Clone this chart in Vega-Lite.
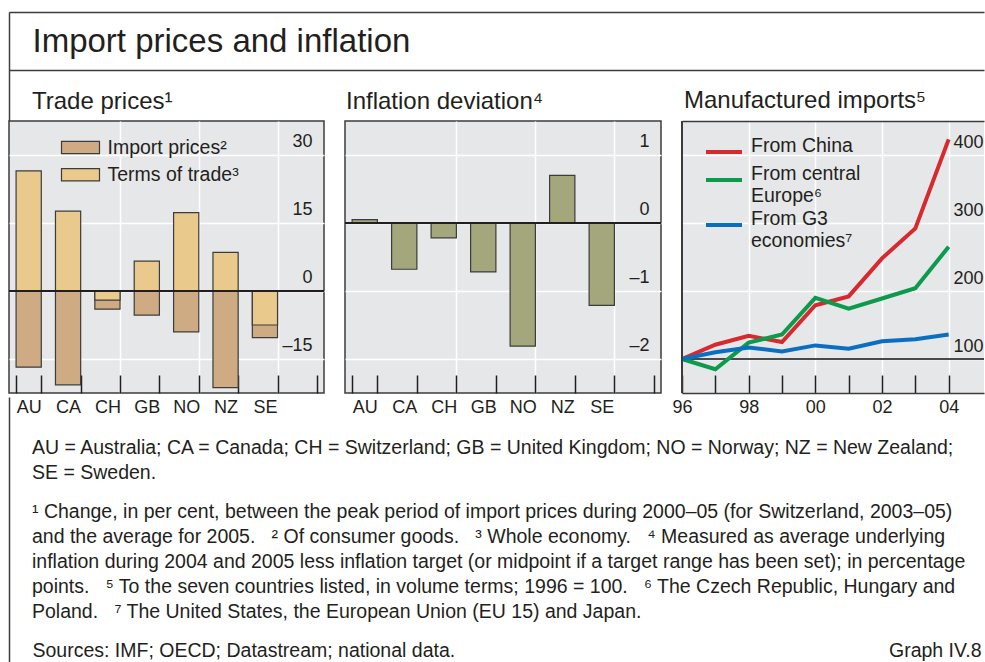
{
  "$schema": "https://vega.github.io/schema/vega-lite/v6.json",
  "background": "white",
  "padding": {"left": 7, "top": 12, "right": 0, "bottom": 0},
  "spacing": -65,
  "resolve": {"scale": {"color": "independent"}, "legend": {"color": "independent"}},
  "config": {
    "font": "Liberation Sans",
    "view": {"stroke": "#3c3c3c", "strokeWidth": 1.5, "fill": "#e6e7e8"},
    "axis": {"labelFont": "Liberation Sans", "labelColor": "#231f20", "titleFont": "Liberation Sans", "titleColor": "#231f20", "titleFontWeight": "normal", "domainColor": "#3c3c3c", "domainWidth": 1.5, "tickColor": "#231f20", "tickWidth": 1.5, "gridColor": "#ffffff", "gridWidth": 1.5, "gridOpacity": 1},
    "legend": {"labelFont": "Liberation Sans", "labelColor": "#231f20", "padding": 0},
    "title": {"font": "Liberation Sans", "color": "#231f20", "fontWeight": "normal", "subtitleFont": "Liberation Sans", "subtitleColor": "#231f20"}
  },
  "vconcat": [
    {
      "width": 975, "height": 109,
      "view": {"stroke": null, "fill": null},
      "data": {"values": [{"k": 0}]},
      "layer": [
        {
          "mark": {"type": "point", "opacity": 0, "size": 0},
          "encoding": {
            "x": {"datum": 0.5, "type": "quantitative", "scale": {"domain": [0, 1]}, "axis": {"orient": "top", "domain": true, "ticks": false, "labels": false, "grid": false, "title": "Import prices and inflation", "titleFontSize": 33, "titleAnchor": "start", "titleAlign": "left", "titleBaseline": "alphabetic", "titleX": 23, "titleY": 39, "titleAngle": 0}},
            "y": {"datum": 0.5, "type": "quantitative", "scale": {"domain": [0, 1]}, "axis": {"orient": "left", "domain": true, "ticks": false, "labels": false, "grid": false, "title": null}}
          }
        },
        {
          "mark": {"type": "point", "opacity": 0, "size": 0},
          "encoding": {
            "x": {"datum": 0.5, "type": "quantitative", "scale": {"domain": [0, 1]}, "axis": {"orient": "bottom", "offset": -51, "domain": true, "ticks": false, "labels": false, "grid": false, "title": null}}
          }
        }
      ],
      "resolve": {"axis": {"x": "independent"}}
    },
    {
      "bounds": "flush",
      "spacing": 21,
      "resolve": {"scale": {"color": "independent"}, "legend": {"color": "independent"}},
      "hconcat": [
        {
          "width": 315, "height": 272,
          "title": {"text": "Trade prices¹", "anchor": "start", "frame": "group", "fontSize": 24, "dx": 23, "offset": 7},
          "data": {"values": [
            {"country": "AU", "series": "Import prices²", "value": -16.8},
            {"country": "CA", "series": "Import prices²", "value": -20.7},
            {"country": "CH", "series": "Import prices²", "value": -4.0},
            {"country": "GB", "series": "Import prices²", "value": -5.3},
            {"country": "NO", "series": "Import prices²", "value": -9.0},
            {"country": "NZ", "series": "Import prices²", "value": -21.3},
            {"country": "SE", "series": "Import prices²", "value": -10.3},
            {"country": "AU", "series": "Terms of trade³", "value": 26.5},
            {"country": "CA", "series": "Terms of trade³", "value": 17.6},
            {"country": "CH", "series": "Terms of trade³", "value": -2.0},
            {"country": "GB", "series": "Terms of trade³", "value": 6.6},
            {"country": "NO", "series": "Terms of trade³", "value": 17.3},
            {"country": "NZ", "series": "Terms of trade³", "value": 8.5},
            {"country": "SE", "series": "Terms of trade³", "value": -7.5}
          ]},
          "layer": [
            {
              "mark": {"type": "bar", "stroke": "#3c3c3c", "strokeWidth": 1.2},
              "encoding": {
                "x": {"field": "country", "type": "nominal", "sort": null, "scale": {"domain": ["AU", "CA", "CH", "GB", "NO", "NZ", "SE", " "], "paddingInner": 0.36, "paddingOuter": 0.18}, "axis": {"orient": "bottom", "title": null, "domain": false, "tickBand": "extent", "tickSize": -18, "labelPadding": 23, "labelFontSize": 18, "labelAngle": 0, "grid": true, "gridOpacity": {"condition": {"test": "indexof(['CH','NO','SE'], datum.value) >= 0", "value": 1}, "value": 0}}},
                "y": {"field": "value", "type": "quantitative", "stack": null, "scale": {"domain": [-22.5, 37.5], "nice": false, "zero": false}, "axis": {"orient": "right", "values": [-15, 0, 15, 30], "title": null, "domain": false, "ticks": false, "labelAlign": "right", "labelPadding": -12, "labelBaseline": "alphabetic", "labelOffset": -9, "labelFontSize": 18, "labelFlush": false, "labelOverlap": false, "labelExpr": "replace(format(datum.value, 'd'), '−', '–')", "grid": true}},
                "color": {"field": "series", "type": "nominal", "scale": {"domain": ["Import prices²", "Terms of trade³"], "range": ["#ceab82", "#e9c98c"]}, "legend": {"orient": "none", "legendX": 61, "legendY": 16, "title": null, "direction": "vertical", "symbolType": "M-2,-0.64L2,-0.64L2,0.64L-2,0.64Z", "symbolSize": 361, "symbolStrokeColor": "#3c3c3c", "symbolStrokeWidth": 1.2, "symbolOpacity": 1, "labelFontSize": 19.5, "labelOffset": 16.5, "rowPadding": 7.3}}
              }
            },
            {
              "mark": {"type": "rule", "color": "#231f20", "strokeWidth": 1.6},
              "encoding": {"y": {"datum": 0, "type": "quantitative"}}
            }
          ]
        },
        {
          "width": 316, "height": 272,
          "title": {"text": "Inflation deviation⁴", "anchor": "start", "frame": "group", "fontSize": 24, "dx": 1, "offset": 7},
          "data": {"values": [
            {"country": "AU", "value": 0.05},
            {"country": "CA", "value": -0.68},
            {"country": "CH", "value": -0.22},
            {"country": "GB", "value": -0.72},
            {"country": "NO", "value": -1.81},
            {"country": "NZ", "value": 0.70},
            {"country": "SE", "value": -1.21}
          ]},
          "layer": [
            {
              "mark": {"type": "bar", "color": "#a4a67c", "stroke": "#3c3c3c", "strokeWidth": 1.2},
              "encoding": {
                "x": {"field": "country", "type": "nominal", "sort": null, "scale": {"domain": ["AU", "CA", "CH", "GB", "NO", "NZ", "SE", " "], "paddingInner": 0.36, "paddingOuter": 0.18}, "axis": {"orient": "bottom", "title": null, "domain": false, "tickBand": "extent", "tickSize": -18, "labelPadding": 23, "labelFontSize": 18, "labelAngle": 0, "grid": true, "gridOpacity": {"condition": {"test": "indexof(['CH','NO','SE'], datum.value) >= 0", "value": 1}, "value": 0}}},
                "y": {"field": "value", "type": "quantitative", "scale": {"domain": [-2.5, 1.5], "nice": false, "zero": false}, "axis": {"orient": "right", "values": [-2, -1, 0, 1], "title": null, "domain": false, "ticks": false, "labelAlign": "right", "labelPadding": -12, "labelBaseline": "alphabetic", "labelOffset": -9, "labelFontSize": 18, "labelFlush": false, "labelOverlap": false, "labelExpr": "replace(format(datum.value, 'd'), '−', '–')", "grid": true}}
              }
            },
            {
              "mark": {"type": "rule", "color": "#231f20", "strokeWidth": 1.6},
              "encoding": {"y": {"datum": 0, "type": "quantitative"}}
            }
          ]
        },
        {
          "width": 302, "height": 272,
          "view": {"stroke": null},
          "title": {"text": "Manufactured imports⁵", "anchor": "start", "frame": "group", "fontSize": 24, "dx": 2, "offset": 7},
          "data": {"values": [
            {"series": "From China", "year": 1996, "value": 100},
            {"series": "From China", "year": 1997, "value": 121},
            {"series": "From China", "year": 1998, "value": 134},
            {"series": "From China", "year": 1999, "value": 125},
            {"series": "From China", "year": 2000, "value": 179},
            {"series": "From China", "year": 2001, "value": 192},
            {"series": "From China", "year": 2002, "value": 248},
            {"series": "From China", "year": 2003, "value": 292},
            {"series": "From China", "year": 2004, "value": 423},
            {"series": "From central Europe⁶", "year": 1996, "value": 100},
            {"series": "From central Europe⁶", "year": 1997, "value": 85},
            {"series": "From central Europe⁶", "year": 1998, "value": 124},
            {"series": "From central Europe⁶", "year": 1999, "value": 136},
            {"series": "From central Europe⁶", "year": 2000, "value": 190},
            {"series": "From central Europe⁶", "year": 2001, "value": 174},
            {"series": "From central Europe⁶", "year": 2002, "value": 189},
            {"series": "From central Europe⁶", "year": 2003, "value": 204},
            {"series": "From central Europe⁶", "year": 2004, "value": 265},
            {"series": "From G3 economies⁷", "year": 1996, "value": 100},
            {"series": "From G3 economies⁷", "year": 1997, "value": 110},
            {"series": "From G3 economies⁷", "year": 1998, "value": 117},
            {"series": "From G3 economies⁷", "year": 1999, "value": 111},
            {"series": "From G3 economies⁷", "year": 2000, "value": 120},
            {"series": "From G3 economies⁷", "year": 2001, "value": 115},
            {"series": "From G3 economies⁷", "year": 2002, "value": 126},
            {"series": "From G3 economies⁷", "year": 2003, "value": 129},
            {"series": "From G3 economies⁷", "year": 2004, "value": 136}
          ]},
          "layer": [
            {
              "mark": {"type": "rule", "color": "#4a4a4a", "strokeWidth": 1.5},
              "encoding": {"y": {"datum": 100, "type": "quantitative", "scale": {"domain": [50, 450], "nice": false, "zero": false}}}
            },
            {
              "mark": {"type": "line", "strokeWidth": 4},
              "encoding": {
                "x": {"field": "year", "type": "quantitative", "scale": {"domain": [1996, 2005.06], "nice": false, "zero": false}, "axis": {"orient": "bottom", "values": [1996, 1997, 1998, 1999, 2000, 2001, 2002, 2003, 2004], "title": null, "domain": true, "tickSize": -18, "labelPadding": 23, "labelFontSize": 18, "labelFlush": false, "labelOverlap": false, "labelBound": false, "labelExpr": "datum.value % 2 == 0 ? slice(toString(datum.value), 2) : ''", "grid": false}},
                "y": {"field": "value", "type": "quantitative", "scale": {"domain": [50, 450], "nice": false, "zero": false}, "axis": {"orient": "right", "values": [100, 200, 300, 400], "title": null, "domain": false, "ticks": false, "labelAlign": "right", "labelPadding": -1, "labelBaseline": "alphabetic", "labelOffset": -8, "labelFontSize": 18, "labelFlush": false, "labelOverlap": false, "grid": true}},
                "color": {"field": "series", "type": "nominal", "sort": null, "scale": {"domain": ["From China", "From central Europe⁶", "From G3 economies⁷"], "range": ["#d62a2f", "#0c9a4c", "#0b6fc1"]}, "legend": {"orient": "none", "legendX": 22, "legendY": 11, "title": null, "direction": "vertical", "symbolType": "stroke", "symbolSize": 1296, "symbolStrokeWidth": 4, "labelFontSize": 19.5, "labelOffset": 7, "labelBaseline": "alphabetic", "rowPadding": -0.4, "labelExpr": "datum.label == 'From central Europe⁶' ? ['From central', 'Europe⁶'] : datum.label == 'From G3 economies⁷' ? ['From G3', 'economies⁷'] : datum.label"}}
              }
            },
            {
              "mark": {"type": "rule", "color": "#3c3c3c", "strokeWidth": 1.5},
              "encoding": {"x": {"datum": 1996, "type": "quantitative", "scale": {"domain": [1996, 2005.06], "nice": false, "zero": false}, "axis": {"orient": "top", "values": [1998, 2000, 2002, 2004], "title": null, "domain": true, "ticks": false, "labels": false, "grid": true}}}
            }
          ],
          "resolve": {"axis": {"x": "independent"}}
        }
      ]
    },
    {
      "width": 975, "height": 249,
      "view": {"stroke": null, "fill": null},
      "title": {
        "text": ["AU = Australia; CA = Canada; CH = Switzerland; GB = United Kingdom; NO = Norway; NZ = New Zealand;", "SE = Sweden."],
        "subtitle": ["¹ Change, in per cent, between the peak period of import prices during 2000–05 (for Switzerland, 2003–05)", "and the average for 2005.\u00a0\u00a0 ² Of consumer goods.\u00a0\u00a0 ³ Whole economy.\u00a0\u00a0 ⁴ Measured as average underlying", "inflation during 2004 and 2005 less inflation target (or midpoint if a target range has been set); in percentage", "points.\u00a0\u00a0 ⁵ To the seven countries listed, in volume terms; 1996 = 100.\u00a0\u00a0 ⁶ The Czech Republic, Hungary and", "Poland.\u00a0\u00a0 ⁷ The United States, the European Union (EU 15) and Japan."],
        "orient": "bottom", "anchor": "start", "frame": "group", "baseline": "top",
        "fontSize": 19.5, "lineHeight": 25, "subtitleFontSize": 19.5, "subtitleLineHeight": 25, "subtitlePadding": 19,
        "dx": 23, "offset": -247
      },
      "data": {"values": [{"k": 0}]},
      "layer": [
        {
          "mark": {"type": "point", "opacity": 0, "size": 0},
          "encoding": {
            "x": {"datum": 0.5, "type": "quantitative", "scale": {"domain": [0, 1]}, "axis": {"orient": "bottom", "domain": false, "ticks": false, "labels": false, "grid": false, "title": "Sources: IMF; OECD; Datastream; national data.", "titleFontSize": 19.5, "titleAnchor": "start", "titleAlign": "left", "titleBaseline": "alphabetic", "titleX": 23, "titleY": -10, "titleAngle": 0}},
            "y": {"datum": 0.5, "type": "quantitative", "scale": {"domain": [0, 1], "range": [249, -20]}, "axis": {"orient": "left", "domain": true, "ticks": false, "labels": false, "grid": false, "title": null}}
          }
        },
        {
          "mark": {"type": "point", "opacity": 0, "size": 0},
          "encoding": {
            "y": {"datum": 0.5, "type": "quantitative", "scale": {"domain": [0, 1], "range": [249, -20]}, "axis": {"orient": "right", "domain": false, "ticks": false, "labels": false, "grid": false, "title": "Graph IV.8", "titleFontSize": 19.5, "titleAngle": 0, "titleAlign": "right", "titleBaseline": "alphabetic", "titleX": -3, "titleY": 239}}
          }
        }
      ],
      "resolve": {"axis": {"y": "independent"}}
    }
  ]
}
